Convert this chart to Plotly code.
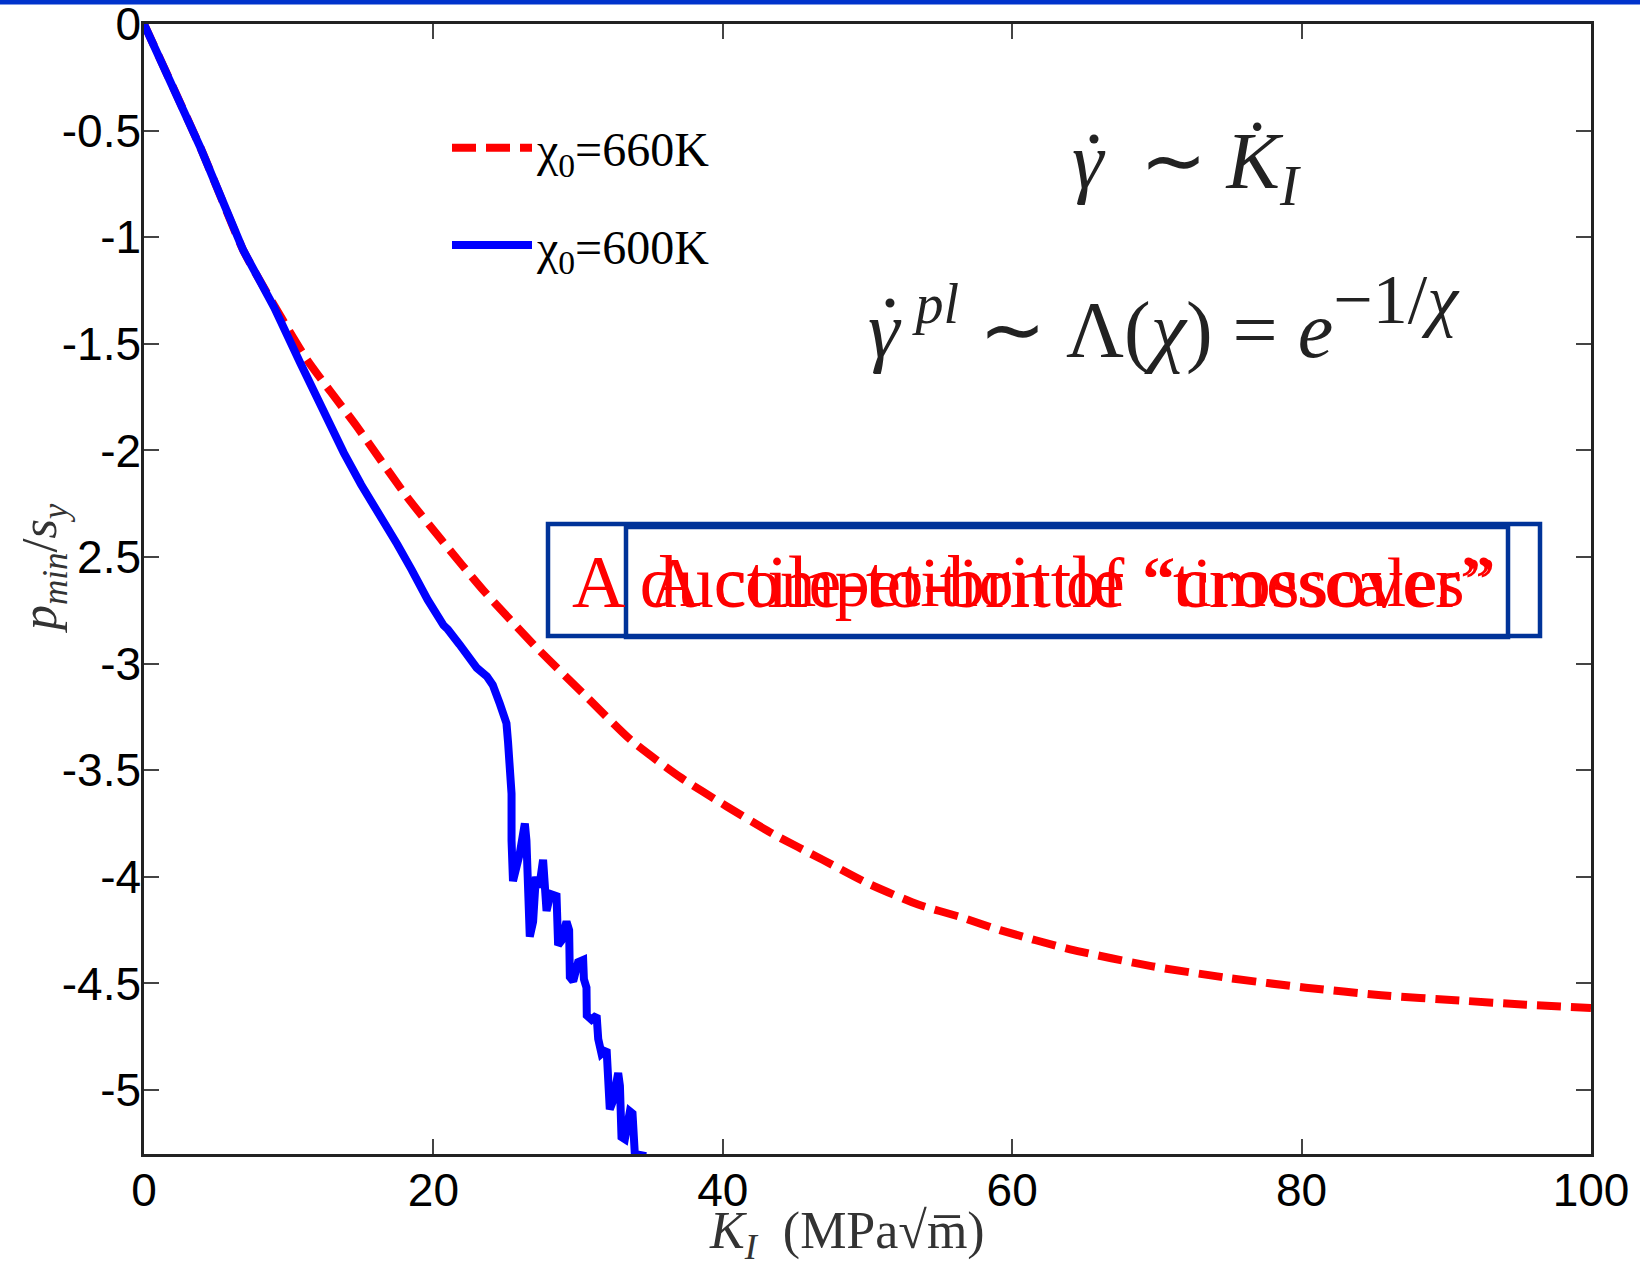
import plotly.graph_objects as go

# ---------------- data ----------------
k_660 = [0, 3.9, 6.85, 8.46, 11.23, 14.68, 18.14, 20.44, 23.5, 27.06, 30.5, 33.67,
         37.0, 40.28, 43.5, 46.9, 50.0, 53.5, 56.5, 59.16, 64.0, 69.7, 75.0, 80.3,
         85.5, 90.9, 95.5, 100]
p_660 = [0, -0.58, -1.06, -1.257, -1.571, -1.885, -2.215, -2.41, -2.66, -2.92, -3.15, -3.36,
         -3.53, -3.67, -3.80, -3.92, -4.03, -4.13, -4.19, -4.25, -4.34, -4.42, -4.475, -4.52,
         -4.555, -4.58, -4.60, -4.615]

k_600 = [0, 3.9, 6.85, 9.0, 10.8, 12.4, 13.8, 15.0, 16.3, 17.5, 18.5, 19.6, 20.7, 21.0,
         21.8, 23.0, 23.7, 24.1, 24.6, 25.05, 25.16, 25.28, 25.40, 25.40, 25.5, 25.97,
         26.32, 26.43, 26.55, 26.66, 26.89, 27.08, 27.31, 27.58, 27.82, 28.09, 28.51,
         28.62, 28.85, 29.2, 29.38, 29.43, 29.66, 30.0, 30.35, 30.4, 30.58, 30.6, 30.93,
         31.28, 31.39, 31.62, 31.97, 32.08, 32.19, 32.42, 32.77, 32.89, 33.0, 33.23,
         33.58, 33.76, 33.92, 34.7]
p_600 = [0, -0.58, -1.06, -1.33, -1.59, -1.82, -2.01, -2.16, -2.30, -2.44, -2.56, -2.70,
         -2.82, -2.84, -2.91, -3.02, -3.06, -3.10, -3.19, -3.28, -3.37, -3.45, -3.61,
         -3.83, -4.02, -3.89, -3.75, -3.83, -4.21, -4.28, -4.21, -4.00, -4.05, -3.92,
         -4.16, -4.08, -4.09, -4.32, -4.30, -4.21, -4.25, -4.47, -4.49, -4.40, -4.39,
         -4.48, -4.52, -4.65, -4.67, -4.65, -4.76, -4.83, -4.81, -4.90, -5.09, -5.05,
         -4.92, -4.98, -5.22, -5.23, -5.10, -5.11, -5.30, -5.31]

series_names = ["χ<sub>0</sub>=660K", "χ<sub>0</sub>=600K"]

x_tick_vals = [0, 20, 40, 60, 80, 100]
x_tick_text = ["0", "20", "40", "60", "80", "100"]
y_tick_vals = [0, -0.5, -1, -1.5, -2, -2.5, -3, -3.5, -4, -4.5, -5]
y_tick_text = ["0", "-0.5", "-1", "-1.5", "-2", "-2.5", "-3", "-3.5", "-4", "-4.5", "-5"]

box_text_1 = "A ductile-to-brittle “crossover”"
box_text_2 = "A competition of “timescales”"
eq_1 = "<i>γ</i>\u2009 ∼ <i>K̇</i><sub><i>I</i></sub>"
eq_2 = ("<i>γ</i>\u2009<sup><i>pl</i></sup> ∼ Λ(<i>χ</i>) = <i>e</i>"
        "<sup><span style='font-size:70px'>−1/<i>χ</i></span></sup>")
x_title = "<i>K</i><sub><i>I</i></sub>  (MPa√m̅)"
y_title = "<i>p</i><sub><i>min</i></sub>/<i>s</i><sub><i>y</i></sub>"

# ---------------- layout helpers ----------------
FW, FH = 1640, 1261
L, T, R, B = 144, 24, 49, 107
W, H = FW - L - R, FH - T - B


def px(x):
    return (x - L) / W


def py(y):
    return (T + H - y) / H


SERIF = "Liberation Serif"
SANS = "Liberation Sans"
MATH_COLOR = "#222222"

fig = go.Figure()
fig.add_trace(go.Scatter(x=k_660, y=p_660, mode="lines", name=series_names[0],
                         line=dict(color="#FF0000", width=8, dash="24px,10px", shape="spline", smoothing=0.6),
                         legendgroup="a"))
fig.add_trace(go.Scatter(x=k_600, y=p_600, mode="lines", name=series_names[1],
                         line=dict(color="#0000FF", width=8), legendgroup="b"))

axis_common = dict(showgrid=False, zeroline=False, showline=True, linecolor="#222222",
                   linewidth=2.5, mirror="ticks", ticks="inside", ticklen=15, tickwidth=1.5,
                   tickcolor="#444444", automargin=False, ticklabeloverflow="allow")

fig.update_xaxes(range=[0, 100], tickvals=x_tick_vals, ticktext=x_tick_text,
                 tickfont=dict(family=SANS, size=46, color="black"), ticklabelstandoff=-6,
                 **axis_common)
fig.update_yaxes(range=[-5.3, 0], tickvals=y_tick_vals, ticktext=y_tick_text,
                 tickfont=dict(family=SANS, size=46, color="black"), ticklabelstandoff=-9,
                 **axis_common)


def dot(cx, cy, r=4.5):
    return dict(type="circle", xref="paper", yref="paper", x0=px(cx - r), x1=px(cx + r),
                y0=py(cy + r), y1=py(cy - r), fillcolor=MATH_COLOR, line=dict(width=0))


shapes = [
    # top slide bar
    dict(type="rect", xref="paper", yref="paper", x0=px(0), x1=px(FW), y0=py(4.5), y1=py(0),
         fillcolor="#0033CC", line=dict(width=0), layer="above"),
    dict(type="rect", xref="paper", yref="paper", x0=px(548), x1=px(1540), y0=py(636), y1=py(524),
         line=dict(color="#003399", width=4.5), fillcolor="rgba(255,255,255,1)", layer="above"),
    dict(type="rect", xref="paper", yref="paper", x0=px(626), x1=px(1508), y0=py(637), y1=py(527),
         line=dict(color="#003399", width=4.5), layer="above"),
    dot(1094, 139),
    dot(890, 303),
]

annotations = [
    dict(text=box_text_1, x=px(570), y=py(582), xref="paper", yref="paper", xanchor="left",
         yanchor="middle", showarrow=False, font=dict(family=SERIF, size=74, color="#FF0000")),
    dict(text=box_text_2, x=px(648), y=py(582), xref="paper", yref="paper", xanchor="left",
         yanchor="middle", showarrow=False, font=dict(family=SERIF, size=70, color="#FF0000")),
    dict(text=eq_1, x=px(1070), y=py(167), xref="paper", yref="paper", xanchor="left",
         yanchor="middle", showarrow=False, font=dict(family=SERIF, size=80, color=MATH_COLOR)),
    dict(text=eq_2, x=px(866), y=py(318), xref="paper", yref="paper", xanchor="left",
         yanchor="middle", showarrow=False, font=dict(family=SERIF, size=80, color=MATH_COLOR)),
    dict(text=x_title, x=px(847), y=py(1234), xref="paper", yref="paper", xanchor="center",
         yanchor="middle", showarrow=False, font=dict(family=SERIF, size=52, color="#333333")),
    dict(text=y_title, x=px(43), y=py(568), xref="paper", yref="paper", xanchor="center",
         yanchor="middle", showarrow=False, textangle=-90, bgcolor="white",
         font=dict(family=SERIF, size=50, color="#333333")),
]

fig.update_layout(
    width=FW, height=FH,
    margin=dict(l=L, r=R, t=T, b=B, pad=0),
    paper_bgcolor="white", plot_bgcolor="white",
    showlegend=True,
    legend=dict(x=px(447), y=py(110), xanchor="left", yanchor="top",
                font=dict(family=SERIF, size=48, color="black"),
                bgcolor="rgba(0,0,0,0)", borderwidth=0, itemwidth=80,
                tracegroupgap=32, traceorder="grouped"),
    shapes=shapes,
    annotations=annotations,
)

fig.write_html("out.html")
